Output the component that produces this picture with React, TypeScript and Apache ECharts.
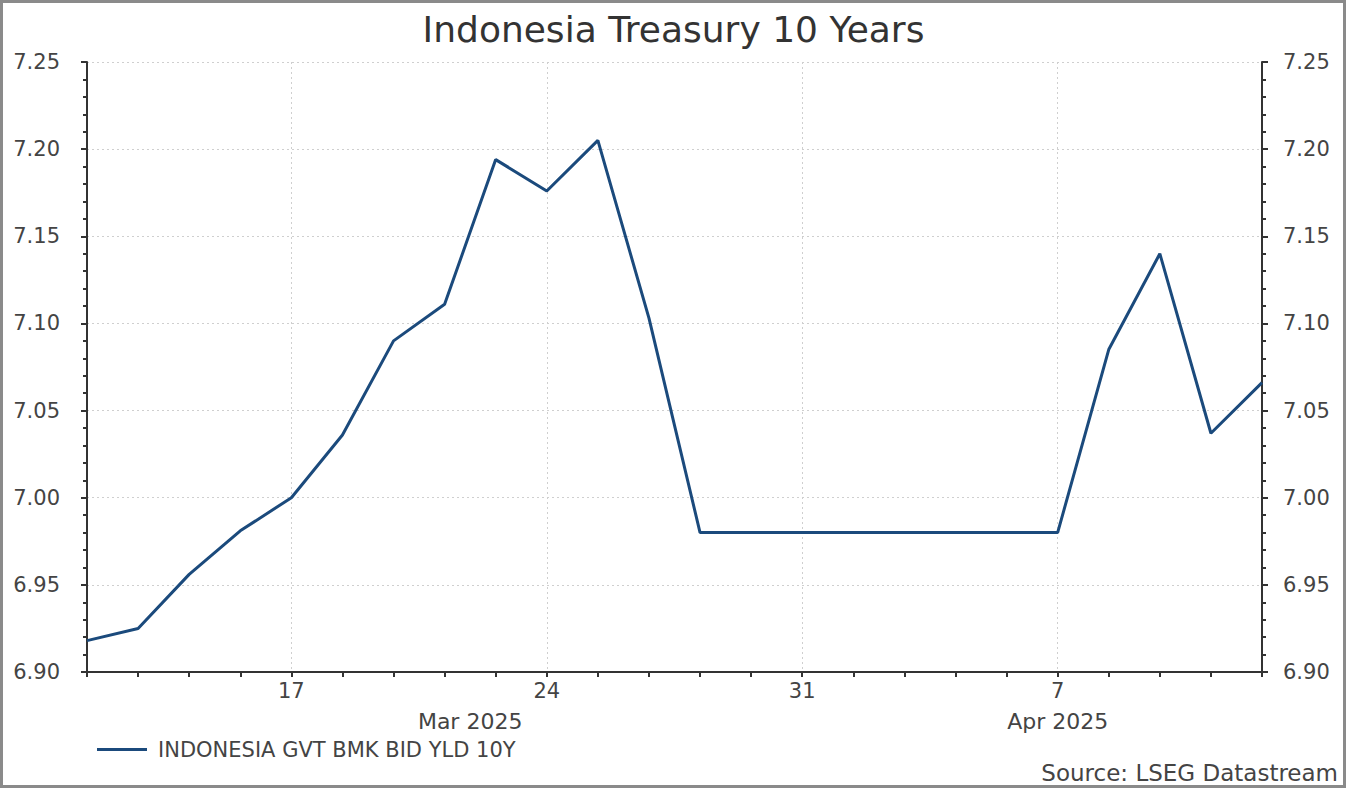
import React, { useEffect, useRef } from "react";
import * as echarts from "echarts";

const dates: string[] = [
  "2025-03-11", "2025-03-12", "2025-03-13", "2025-03-14",
  "2025-03-17", "2025-03-18", "2025-03-19", "2025-03-20", "2025-03-21",
  "2025-03-24", "2025-03-25", "2025-03-26", "2025-03-27", "2025-03-28",
  "2025-03-31", "2025-04-01", "2025-04-02", "2025-04-03", "2025-04-04",
  "2025-04-07", "2025-04-08", "2025-04-09", "2025-04-10", "2025-04-11",
];

const yields: number[] = [
  6.918, 6.925, 6.956, 6.981,
  7.0, 7.036, 7.09, 7.111, 7.194,
  7.176, 7.205, 7.103, 6.98, 6.98,
  6.98, 6.98, 6.98, 6.98, 6.98,
  6.98, 7.085, 7.14, 7.037, 7.066,
];

const monthLabels: { pos: number; text: string }[] = [
  { pos: 7.5, text: "Mar 2025" },
  { pos: 19, text: "Apr 2025" },
];

const seriesName = "INDONESIA GVT BMK BID YLD 10Y";
const titleText = "Indonesia Treasury 10 Years";
const sourceText = "Source: LSEG Datastream";

const isMonday = (d: string) => new Date(d + "T00:00:00Z").getUTCDay() === 1;

export default function App() {
  const ref = useRef<HTMLDivElement>(null);
  useEffect(() => {
    if (!ref.current) return;
    const chart = echarts.init(ref.current, undefined, { renderer: "svg" });
    const font = "'DejaVu Sans', Verdana, sans-serif";
    const yAxisCommon = {
      type: "value",
      min: 6.9,
      max: 7.25,
      interval: 0.05,
      axisLine: { show: true, lineStyle: { color: "#333", width: 2 } },
      axisTick: { show: true, inside: false, length: 6, lineStyle: { color: "#333", width: 2 } },
      minorTick: { show: true, splitNumber: 5, length: 4, lineStyle: { color: "#333", width: 2 } },
      axisLabel: {
        color: "#444",
        fontSize: 21,
        fontFamily: font,
        formatter: (v: number) => v.toFixed(2),
      },
    };
    chart.setOption({
      animation: false,
      backgroundColor: "#fff",
      title: {
        text: titleText,
        left: "center",
        top: 6,
        textStyle: { fontSize: 36, fontWeight: "normal", color: "#333", fontFamily: font },
      },
      legend: {
        left: 92,
        top: 734,
        icon: "rect",
        itemWidth: 50,
        itemHeight: 3,
        itemGap: 10,
        textStyle: { fontSize: 21, color: "#444", fontFamily: font, padding: [0, 0, 0, 6] },
        data: [seriesName],
      },
      grid: { left: 87, right: 85, top: 62, bottom: 117, containLabel: false },
      xAxis: [
        {
          type: "category",
          data: dates,
          boundaryGap: false,
          axisLine: { show: true, lineStyle: { color: "#333", width: 2 } },
          axisTick: { show: true, interval: 0, length: 5, lineStyle: { color: "#333", width: 2 } },
          axisLabel: {
            interval: (i: number, v: string) => isMonday(v),
            formatter: (v: string) => String(Number(v.slice(8, 10))),
            color: "#444",
            fontSize: 21,
            fontFamily: font,
            margin: 8,
          },
          splitLine: {
            show: true,
            interval: (i: number, v: string) => isMonday(v),
            lineStyle: { color: "#cfcfcf", type: [2, 3], width: 1 },
          },
        },
        {
          type: "value",
          min: 0,
          max: dates.length - 1,
          interval: 0.5,
          position: "bottom",
          axisLine: { show: false },
          axisTick: { show: false },
          splitLine: { show: false },
          axisLabel: {
            margin: 38,
            color: "#444",
            fontSize: 22,
            fontFamily: font,
            showMinLabel: true,
            showMaxLabel: true,
            formatter: (v: number) => {
              const m = monthLabels.find((x) => Math.abs(x.pos - v) < 1e-6);
              return m ? m.text : "";
            },
          },
        },
      ],
      yAxis: [
        {
          ...yAxisCommon,
          position: "left",
          axisLabel: { ...yAxisCommon.axisLabel, margin: 27 },
          splitLine: { show: true, lineStyle: { color: "#cfcfcf", type: [2, 3], width: 1 } },
        },
        {
          ...yAxisCommon,
          position: "right",
          axisLabel: { ...yAxisCommon.axisLabel, margin: 21 },
          splitLine: { show: false },
        },
      ],
      series: [
        {
          name: seriesName,
          type: "line",
          xAxisIndex: 0,
          yAxisIndex: 0,
          data: yields,
          symbol: "none",
          lineStyle: { color: "#1b4a7c", width: 3 },
          itemStyle: { color: "#1b4a7c" },
        },
      ],
      graphic: [
        {
          type: "rect",
          shape: { x: 1.5, y: 1.5, width: 1343, height: 785 },
          style: { fill: "none", stroke: "#8a8a8a", lineWidth: 3 },
          silent: true,
        },
        {
          type: "text",
          right: 9,
          top: 761,
          style: { text: sourceText, fill: "#444", font: `23px ${font}` },
        },
      ],
    });
    return () => chart.dispose();
  }, []);
  return (
    <div
      ref={ref}
      style={{ position: "absolute", left: 0, top: 0, width: 1347, height: 789 }}
    />
  );
}
